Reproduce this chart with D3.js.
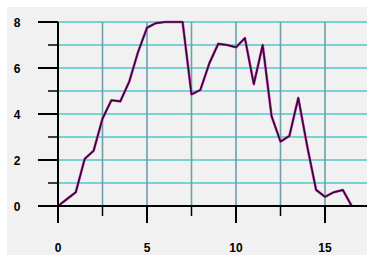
<!DOCTYPE html>
<html><head><meta charset="utf-8">
<script src="https://cdn.jsdelivr.net/npm/d3@7"></script>
<style>html,body{margin:0;padding:0;background:#fff;}svg{display:block;}</style>
</head><body>
<script>
const xValues = [0,0.5,1,1.5,2,2.5,3,3.5,4,4.5,5,5.5,6,6.5,7,7.5,8,8.5,9,9.5,10,10.5,11,11.5,12,12.5,13,13.5,14,14.5,15,15.5,16,16.5];
const yValues = [0,0.3,0.6,2.05,2.4,3.8,4.6,4.55,5.4,6.7,7.75,7.95,8,8,8,4.85,5.05,6.2,7.05,7.0,6.9,7.3,5.3,7.0,3.9,2.8,3.05,4.7,2.6,0.7,0.4,0.6,0.7,0];
const yMajorTicks = [0,2,4,6,8];
const yMinorTicks = [1,3,5,7];
const xMajorTicks = [0,5,10,15];
const xMinorTicks = [2.5,7.5,12.5,17.5];

const W = 367, H = 255;
const svg = d3.select("body").append("svg").attr("width", W).attr("height", H);
svg.append("rect").attr("x", 7).attr("y", 7).attr("width", W - 7).attr("height", H - 7).attr("fill", "#f1f1f1");

const x = d3.scaleLinear().domain([0, 15]).range([58, 325]);
const y = d3.scaleLinear().domain([0, 8]).range([206, 22]);

// horizontal grid
svg.selectAll(".hg").data(yMajorTicks.concat(yMinorTicks).filter(d => d > 0)).enter().append("line")
  .attr("x1", x(0)).attr("x2", W).attr("y1", d => y(d)).attr("y2", d => y(d))
  .attr("stroke", "#52c6c8").attr("stroke-width", 1.3);
// vertical grid
svg.selectAll(".vg").data(xMinorTicks.concat(xMajorTicks).filter(d => d > 0)).enter().append("line")
  .attr("x1", d => x(d)).attr("x2", d => x(d)).attr("y1", y(8)).attr("y2", y(0))
  .attr("stroke", "#6aa2a8").attr("stroke-width", 1.6);

// line
const line = d3.line().x((d, i) => x(xValues[i])).y(d => y(d));
svg.append("path").datum(yValues).attr("d", line).attr("fill", "none")
  .attr("stroke", "#d040c0").attr("stroke-width", 2.6).attr("stroke-linejoin", "round");
svg.append("path").datum(yValues).attr("d", line).attr("fill", "none")
  .attr("stroke", "#2a0a28").attr("stroke-width", 1.5).attr("stroke-linejoin", "round");

// y axis
svg.append("line").attr("x1", x(0)).attr("x2", x(0)).attr("y1", y(8)).attr("y2", y(0) + 17)
  .attr("stroke", "#000").attr("stroke-width", 2);
svg.selectAll(".ymaj").data(yMajorTicks).enter().append("line")
  .attr("x1", 38).attr("x2", x(0)).attr("y1", d => y(d)).attr("y2", d => y(d))
  .attr("stroke", "#000").attr("stroke-width", 2);
svg.selectAll(".ymin").data(yMinorTicks).enter().append("line")
  .attr("x1", 48).attr("x2", x(0)).attr("y1", d => y(d)).attr("y2", d => y(d))
  .attr("stroke", "#000").attr("stroke-width", 1.5);
svg.selectAll(".ylab").data(yMajorTicks).enter().append("text")
  .attr("x", 17).attr("y", d => y(d) + 4.5).attr("text-anchor", "middle")
  .attr("font-family", "Liberation Sans, Arial, sans-serif").attr("font-weight", "bold").attr("font-size", 12)
  .text(d => d);

// x axis
svg.append("line").attr("x1", 38).attr("x2", W).attr("y1", y(0)).attr("y2", y(0))
  .attr("stroke", "#000").attr("stroke-width", 2);
svg.selectAll(".xmaj").data(xMajorTicks.filter(d => d > 0)).enter().append("line")
  .attr("x1", d => x(d)).attr("x2", d => x(d)).attr("y1", y(0)).attr("y2", y(0) + 17)
  .attr("stroke", "#000").attr("stroke-width", 2);
svg.selectAll(".xmin").data(xMinorTicks).enter().append("line")
  .attr("x1", d => x(d)).attr("x2", d => x(d)).attr("y1", y(0)).attr("y2", y(0) + 10)
  .attr("stroke", "#000").attr("stroke-width", 1.5);
svg.selectAll(".xlab").data(xMajorTicks).enter().append("text")
  .attr("x", d => x(d)).attr("y", 251.5).attr("text-anchor", "middle")
  .attr("font-family", "Liberation Sans, Arial, sans-serif").attr("font-weight", "bold").attr("font-size", 12)
  .text(d => d);
</script>
</body></html>
